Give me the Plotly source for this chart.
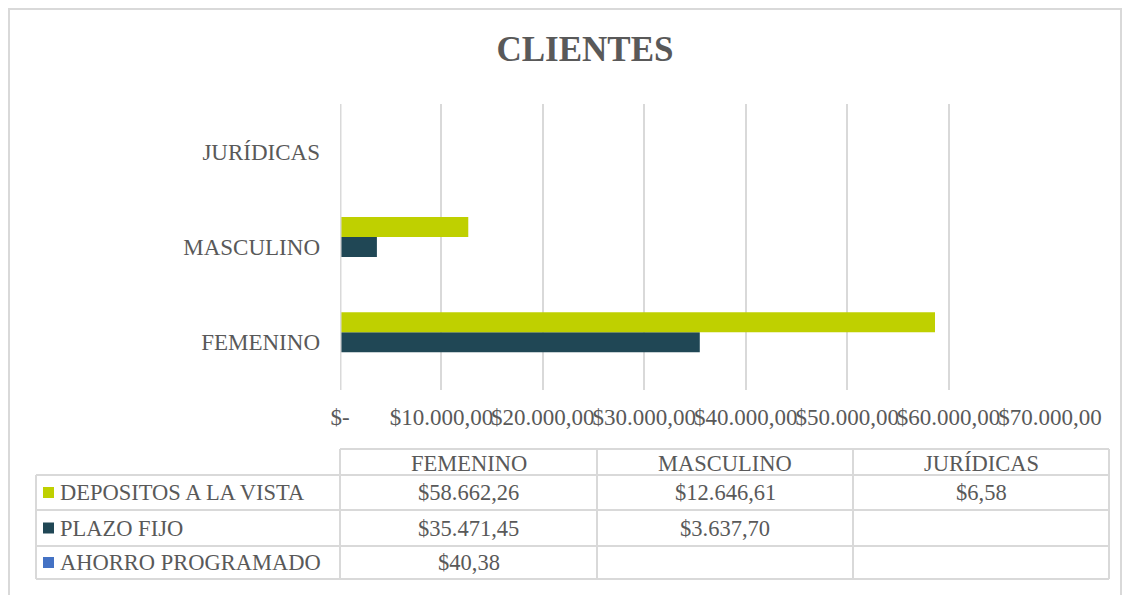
import plotly.graph_objects as go

# ---------------- data ----------------
categories = ["FEMENINO", "MASCULINO", "JURÍDICAS"]
series_names = ["DEPOSITOS A LA VISTA", "PLAZO FIJO", "AHORRO PROGRAMADO"]
depositos = [58662.26, 12646.61, 6.58]
plazo_fijo = [35471.45, 3637.70, None]
ahorro = [40.38, None, None]
tick_values = [0, 10000, 20000, 30000, 40000, 50000, 60000, 70000]
title_text = "CLIENTES"

colors = {"DEPOSITOS A LA VISTA": "#BFD000",
          "PLAZO FIJO": "#204755",
          "AHORRO PROGRAMADO": "#4472C4"}
series_values = {"DEPOSITOS A LA VISTA": depositos,
                 "PLAZO FIJO": plazo_fijo,
                 "AHORRO PROGRAMADO": ahorro}

FONT = "Liberation Serif, Times New Roman, serif"
TXT = "#595959"
GRID = "#D9D9D9"


def money(v):
    if v is None:
        return ""
    if v == 0:
        return "$-"
    s = f"{v:,.2f}"
    s = s.replace(",", "X").replace(".", ",").replace("X", ".")
    return "$" + s


OFF = 8                       # default page margin around the figure
W, H = 1132 - OFF, 603 - 2 * OFF
# plot area in page pixels
L, R, T, B = 340, 1050, 104, 390
fl, fr, ft, fb = L - OFF, R - OFF, T - OFF, B - OFF


def px(x):   # page x pixel -> paper
    return (x - L) / (R - L)


def py(y):   # page y pixel -> paper
    return (B - y) / (B - T)


fig = go.Figure()
# plotly puts the first trace at the bottom of each group
for name in reversed(series_names):
    fig.add_trace(go.Bar(
        y=categories, x=series_values[name], name=name, orientation="h",
        marker=dict(color=colors[name], line=dict(width=0)),
        showlegend=False,
    ))

fig.update_layout(
    width=W, height=H, autosize=False,
    margin=dict(l=fl, r=W - fr, t=ft, b=H - fb, pad=0),
    paper_bgcolor="white", plot_bgcolor="white",
    barmode="group", bargap=0.37, bargroupgap=0,
    font=dict(family=FONT, color=TXT, size=22),
    title=dict(text=f"<b>{title_text}</b>", x=(585 - OFF) / W, xanchor="center",
               y=1 - (49 - OFF) / H, yanchor="middle",
               font=dict(family=FONT, size=35, color=TXT)),
)

fig.update_xaxes(
    range=[0, 70000], tickvals=tick_values,
    ticktext=[money(v) for v in tick_values],
    tickangle=0,
    showgrid=True, gridcolor=GRID, gridwidth=1.5,
    zeroline=False, showline=False, ticks="",
    ticklabelstandoff=11,
    tickfont=dict(family=FONT, size=23, color=TXT),
)
fig.update_yaxes(
    categoryorder="array", categoryarray=categories,
    showgrid=False, zeroline=False, showline=False,
    ticks="", ticklabelstandoff=19,
    tickfont=dict(family=FONT, size=23, color=TXT),
)

shapes = []
annotations = []

# vertical axis line at x = 0, drawn above the bars (like the reference)
shapes.append(dict(type="line", xref="x", yref="paper", x0=0, x1=0, y0=0, y1=1,
                   line=dict(color=GRID, width=3), layer="above"))

# outer chart border
shapes.append(dict(type="rect", xref="paper", yref="paper",
                   x0=px(OFF + 1), x1=px(1121), y0=py(OFF + 1), y1=py(640),
                   line=dict(color=GRID, width=2), fillcolor="rgba(0,0,0,0)",
                   layer="below"))

# ---- data table ----
col_x = [36, 340, 597, 853, 1109]
row_y = [449, 475, 510, 546, 579]
TFS = 22.5


def hline(y, x0, x1):
    shapes.append(dict(type="line", xref="paper", yref="paper",
                       x0=px(x0), x1=px(x1), y0=py(y), y1=py(y),
                       line=dict(color=GRID, width=2)))


def vline(x, y0, y1):
    shapes.append(dict(type="line", xref="paper", yref="paper",
                       x0=px(x), x1=px(x), y0=py(y0), y1=py(y1),
                       line=dict(color=GRID, width=2)))


hline(row_y[0], col_x[1], col_x[-1])
for y in row_y[1:]:
    hline(y, col_x[0], col_x[-1])
vline(col_x[0], row_y[1], row_y[-1])
for x in col_x[1:]:
    vline(x, row_y[0], row_y[-1])

# header
for j, cat in enumerate(categories):
    annotations.append(dict(
        xref="paper", yref="paper",
        x=px((col_x[j + 1] + col_x[j + 2]) / 2), y=py((row_y[0] + row_y[1]) / 2 + 1),
        text=cat, showarrow=False, xanchor="center", yanchor="middle",
        font=dict(family=FONT, size=TFS, color=TXT)))

# rows
for i, name in enumerate(series_names):
    yc = (row_y[i + 1] + row_y[i + 2]) / 2
    shapes.append(dict(type="rect", xref="paper", yref="paper",
                       x0=px(43), x1=px(54), y0=py(yc - 5.5), y1=py(yc + 5.5),
                       fillcolor=colors[name], line=dict(width=0)))
    annotations.append(dict(
        xref="paper", yref="paper", x=px(58), y=py(yc),
        text=name, showarrow=False, xanchor="left", yanchor="middle",
        font=dict(family=FONT, size=TFS, color=TXT)))
    for j, v in enumerate(series_values[name]):
        if v is None:
            continue
        annotations.append(dict(
            xref="paper", yref="paper",
            x=px((col_x[j + 1] + col_x[j + 2]) / 2), y=py(yc),
            text=money(v), showarrow=False, xanchor="center", yanchor="middle",
            font=dict(family=FONT, size=TFS, color=TXT)))

fig.update_layout(shapes=shapes, annotations=annotations)

fig.write_html("out.html")
